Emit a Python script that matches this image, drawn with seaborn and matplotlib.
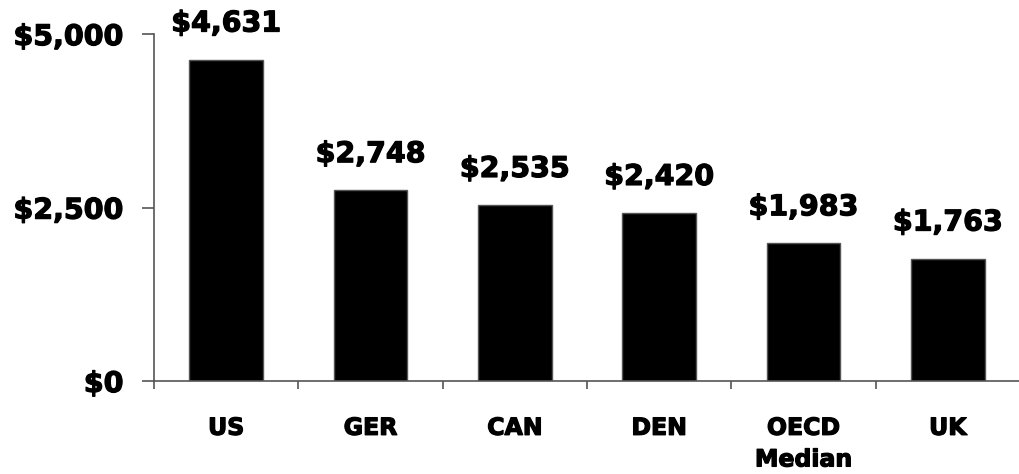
import numpy as np
import pandas as pd
import seaborn as sns
import matplotlib
matplotlib.use("Agg")
from matplotlib import pyplot as plt
from matplotlib import patheffects
from matplotlib.ticker import FixedLocator

# spending per capita
countries = ["US", "GER", "CAN", "DEN", "OECD\nMedian", "UK"]
spending = [4631, 2748, 2535, 2420, 1983, 1763]
y_ticks = [0, 2500, 5000]
y_tick_labels = ["$0", "$2,500", "$5,000"]

df = pd.DataFrame({"country": countries, "spending": spending})

sns.set_theme(style="white")
plt.rcParams["font.family"] = ["DejaVu Sans"]
plt.rcParams["font.weight"] = "bold"
plt.rcParams["text.color"] = "black"
plt.rcParams["xtick.color"] = "black"
plt.rcParams["ytick.color"] = "black"

# thicker strokes to look like a black-weight font
heavy = [patheffects.withStroke(linewidth=0.9, foreground="black")]

fig = plt.figure(figsize=(10.2, 4.74), dpi=100)
ax = fig.add_axes([0.151, 0.196, 0.849, 0.732])

sns.barplot(data=df, x="country", y="spending", color="black",
            saturation=1, width=0.51, edgecolor="#555555", linewidth=1,
            ax=ax)

ax.set_xlim(-0.5, len(countries) - 0.5)
ax.set_ylim(0, 5000)
ax.set_xlabel("")
ax.set_ylabel("")

# value labels above bars
for i, v in enumerate(spending):
    ax.annotate(f"${v:,}", (i, v), xytext=(0, 16), textcoords="offset points",
                ha="center", va="bottom", fontsize=20.5, fontweight="bold",
                color="black", annotation_clip=False, path_effects=heavy)

ax.set_yticks(y_ticks)
ax.set_yticklabels(y_tick_labels, fontsize=20.5, fontweight="bold",
                   color="black", path_effects=heavy)
ax.set_xticks(range(len(countries)))
ax.set_xticklabels(countries, fontsize=17, fontweight="bold", color="black",
                   linespacing=1.4, va="top", path_effects=heavy)
ax.xaxis.set_minor_locator(FixedLocator(np.arange(-0.5, len(countries), 1)))

ax.tick_params(axis="x", which="major", length=0, pad=25)
ax.tick_params(axis="x", which="minor", length=6, width=1.2,
               color="#555555", direction="out", bottom=True)
ax.tick_params(axis="y", length=9, width=1.2, color="#555555",
               direction="out", pad=13, left=True)

for s in ["top", "right"]:
    ax.spines[s].set_visible(False)
for s in ["left", "bottom"]:
    ax.spines[s].set_color("#555555")
    ax.spines[s].set_linewidth(1.2)

fig.savefig("out.png", dpi=100)
